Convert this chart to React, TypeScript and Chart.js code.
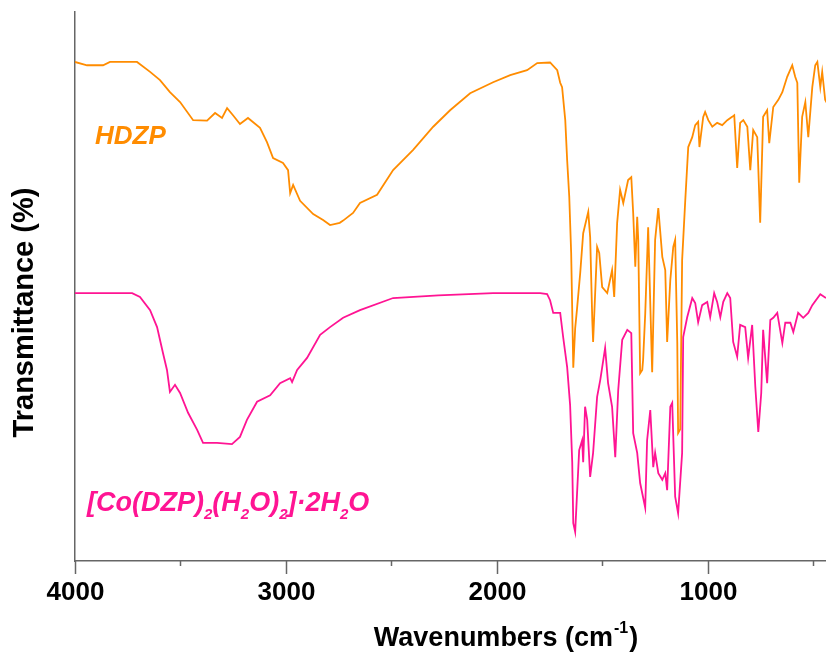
import React, { useEffect, useRef } from "react";
import { Chart, registerables } from "chart.js";

Chart.register(...registerables);

// HDZP spectrum (wavenumber cm-1, transmittance, arbitrary %)
const wnHDZP = [
  4000, 3943, 3867, 3834, 3706, 3644, 3597, 3550, 3502, 3440, 3374, 3336, 3303, 3279, 3251, 3218, 3180, 3123, 3090,
  3061, 3014, 2990, 2980, 2966, 2933, 2871, 2824, 2791, 2745, 2729, 2682, 2649, 2568, 2492, 2397, 2302, 2222, 2127,
  2018, 1937, 1857, 1809, 1748, 1714, 1700, 1691, 1676, 1667, 1657, 1648, 1638, 1629, 1620, 1605, 1591, 1567, 1558,
  1548, 1544, 1525, 1515, 1501, 1477, 1454, 1444, 1430, 1416, 1401, 1378, 1363, 1354, 1344, 1335, 1330, 1321, 1311,
  1307, 1297, 1283, 1264, 1250, 1235, 1216, 1202, 1193, 1178, 1164, 1155, 1145, 1141, 1131, 1122, 1107, 1093, 1074,
  1060, 1046, 1040, 1022, 1013, 998, 979, 956, 932, 908, 885, 875, 861, 847, 832, 813, 799, 785, 766, 752, 738, 719,
  709, 690, 666, 647, 624, 600, 586, 576, 567, 553, 538, 524, 505, 491, 481, 467, 458, 444, 430,
];
const tHDZP = [
  90.9, 90.3, 90.3, 90.9, 90.9, 89.1, 87.6, 85.4, 83.6, 80.3, 80.2, 81.6, 80.7, 82.5, 81.2, 79.6, 80.7, 78.9, 76.3,
  73.4, 72.5, 71.2, 67.0, 68.5, 65.6, 63.2, 62.1, 61.2, 61.6, 62.0, 63.4, 65.2, 66.7, 71.2, 74.9, 79.1, 82.1, 85.2,
  87.2, 88.5, 89.4, 90.7, 90.8, 89.4, 87.1, 86.3, 80.3, 73.0, 66.3, 56.1, 35.2, 42.4, 46.0, 52.5, 59.7, 63.6, 59.0,
  44.0, 39.9, 57.2, 56.1, 49.9, 48.8, 53.0, 48.1, 61.6, 67.6, 65.2, 69.4, 69.9, 63.4, 53.6, 62.7, 58.5, 34.2, 34.8,
  36.6, 45.0, 60.8, 34.4, 58.5, 64.3, 55.4, 53.0, 39.9, 51.2, 57.2, 58.5, 39.7, 23.3, 24.0, 54.8, 65.8, 75.4, 77.2,
  79.4, 80.0, 75.4, 80.9, 81.8, 80.3, 79.1, 79.8, 79.4, 80.3, 80.9, 81.2, 71.6, 79.8, 80.3, 79.1, 71.2, 78.5, 77.2,
  61.6, 80.9, 82.1, 76.1, 82.7, 84.0, 85.4, 88.2, 90.3, 88.2, 87.1, 68.9, 80.9, 83.6, 77.2, 86.3, 90.3, 90.9, 86.3,
  89.1, 84.0, 83.0,
];

// [Co(DZP)2(H2O)2]·2H2O spectrum
const wnCo = [
  4000, 3729, 3692, 3644, 3611, 3583, 3564, 3550, 3526, 3502, 3464, 3421, 3393, 3327, 3256, 3218, 3185, 3137, 3075,
  3028, 2980, 2971, 2947, 2900, 2838, 2791, 2729, 2649, 2492, 2278, 2018, 1795, 1762, 1748, 1733, 1700, 1686, 1667,
  1653, 1643, 1638, 1629, 1620, 1610, 1596, 1591, 1582, 1572, 1558, 1544, 1525, 1510, 1487, 1473, 1454, 1439, 1425,
  1406, 1382, 1363, 1354, 1335, 1321, 1297, 1288, 1273, 1259, 1250, 1235, 1216, 1202, 1193, 1178, 1169, 1155, 1141,
  1122, 1117, 1098, 1074, 1060, 1046, 1027, 1003, 989, 970, 956, 941, 927, 908, 894, 880, 861, 847, 823, 809, 790,
  775, 761, 747, 738, 719, 704, 690, 671, 647, 633, 609, 595, 572, 548, 524, 505, 467, 440,
];
const tCo = [
  48.8, 48.8, 48.1, 45.7, 42.6, 37.9, 34.8, 30.8, 32.1, 30.6, 27.0, 23.9, 21.5, 21.5, 21.3, 22.6, 25.7, 29.0, 30.2,
  32.4, 33.3, 32.6, 34.8, 37.0, 41.2, 42.6, 44.3, 45.7, 47.9, 48.4, 48.8, 48.8, 48.6, 47.5, 45.2, 45.2, 40.8, 35.3,
  28.4, 18.0, 6.9, 5.3, 12.4, 20.2, 22.0, 18.0, 28.1, 25.7, 15.3, 19.7, 29.9, 33.0, 38.8, 32.4, 28.1, 18.9, 31.1,
  40.3, 42.1, 41.5, 23.3, 19.7, 14.2, 9.7, 22.0, 27.5, 17.1, 19.7, 16.0, 14.8, 16.0, 12.9, 28.1, 28.8, 11.7, 8.7,
  19.7, 40.8, 44.4, 47.9, 47.0, 43.5, 46.6, 47.2, 44.4, 48.8, 47.2, 44.4, 47.2, 48.8, 47.9, 39.9, 37.2, 43.0, 42.6,
  37.0, 43.0, 31.7, 23.5, 30.6, 42.1, 32.4, 43.9, 44.3, 45.2, 39.7, 43.4, 43.4, 41.7, 45.2, 44.3, 45.2, 46.6, 48.6,
  47.9,
];

const xMin = 440;
const xMax = 4000;
const tickStep = 500;
const labelStep = 1000;

const ORANGE = "#FF8C00";
const PINK = "#FF1493";
const AXIS = "#666666";
const FONT = "'Liberation Sans', Arial, sans-serif";

const toPoints = (xs: number[], ys: number[]) => xs.map((x, i) => ({ x, y: ys[i] }));

const decorPlugin = {
  id: "decor",
  afterDraw(chart: any) {
    const { ctx, chartArea } = chart;
    const xs = chart.scales.x;
    ctx.save();
    // tick marks and labels
    ctx.strokeStyle = AXIS;
    ctx.lineWidth = 1.5;
    ctx.fillStyle = "#000";
    ctx.font = `bold 26px ${FONT}`;
    ctx.textAlign = "center";
    ctx.textBaseline = "alphabetic";
    const vals: number[] = [];
    for (let v = Math.ceil(xMin / tickStep) * tickStep; v <= xMax; v += tickStep) vals.push(v);
    for (const v of vals) {
      const major = v % labelStep === 0;
      const px = Math.round(xs.getPixelForValue(v)) + 0.5;
      const len = major ? 13 : 5;
      ctx.beginPath();
      ctx.moveTo(px, chartArea.bottom);
      ctx.lineTo(px, chartArea.bottom + len);
      ctx.stroke();
      if (major) ctx.fillText(String(v), px, chartArea.bottom + 39);
    }
    // y title
    ctx.save();
    ctx.translate(25, (chartArea.top + chartArea.bottom) / 2 + 26);
    ctx.rotate(-Math.PI / 2);
    ctx.font = `bold 29px ${FONT}`;
    ctx.textAlign = "center";
    ctx.textBaseline = "middle";
    ctx.fillText("Transmittance (%)", 0, 0);
    ctx.restore();
    // x title with superscript
    const mainF = `bold 27px ${FONT}`;
    const supF = `bold 16px ${FONT}`;
    ctx.font = mainF;
    const a = "Wavenumbers (cm";
    const wa = ctx.measureText(a).width;
    ctx.font = supF;
    const s = "-1";
    const ws = ctx.measureText(s).width;
    ctx.font = mainF;
    const wc = ctx.measureText(")").width;
    const total = wa + ws + wc + 2;
    const x0 = 506 - total / 2;
    const base = 646;
    ctx.textAlign = "left";
    ctx.textBaseline = "alphabetic";
    ctx.fillText(a, x0, base);
    ctx.font = supF;
    ctx.fillText(s, x0 + wa + 1, base - 13);
    ctx.font = mainF;
    ctx.fillText(")", x0 + wa + ws + 2, base);
    // series labels
    ctx.fillStyle = ORANGE;
    ctx.font = `italic bold 26px ${FONT}`;
    ctx.fillText("HDZP", 95, 144);
    const parts: [string, boolean][] = [
      ["[Co(DZP)", false],
      ["2", true],
      ["(H", false],
      ["2", true],
      ["O)", false],
      ["2", true],
      ["]·2H", false],
      ["2", true],
      ["O", false],
    ];
    ctx.fillStyle = PINK;
    let px = 87;
    for (const [t, sub] of parts) {
      ctx.font = sub ? `italic bold 15px ${FONT}` : `italic bold 27px ${FONT}`;
      ctx.fillText(t, px, sub ? 519 : 511);
      px += ctx.measureText(t).width;
    }
    ctx.restore();
  },
};

export default function App() {
  const ref = useRef<HTMLCanvasElement>(null);
  useEffect(() => {
    if (!ref.current) return;
    const chart = new Chart(ref.current, {
      type: "line",
      data: {
        datasets: [
          {
            label: "HDZP",
            data: toPoints(wnHDZP, tHDZP),
            borderColor: ORANGE,
            borderWidth: 1.8,
            pointRadius: 0,
            tension: 0,
          },
          {
            label: "[Co(DZP)2(H2O)2]·2H2O",
            data: toPoints(wnCo, tCo),
            borderColor: PINK,
            borderWidth: 1.8,
            pointRadius: 0,
            tension: 0,
          },
        ],
      },
      options: {
        animation: false,
        responsive: false,
        devicePixelRatio: 1,
        layout: { padding: { top: 12, right: 0, left: 0, bottom: 0 } },
        plugins: { legend: { display: false }, tooltip: { enabled: false } },
        scales: {
          x: {
            type: "linear",
            reverse: true,
            min: xMin,
            max: xMax,
            border: { display: true, color: AXIS, width: 1.5 },
            grid: { display: false, drawTicks: false },
            ticks: { display: false, stepSize: tickStep, includeBounds: false },
            afterFit: (s: any) => {
              s.height = 94;
            },
          },
          y: {
            min: 0,
            max: 100,
            border: { display: true, color: AXIS, width: 1.5 },
            grid: { display: false, drawTicks: false },
            ticks: { display: false },
            afterFit: (s: any) => {
              s.width = 75;
            },
          },
        },
      },
      plugins: [decorPlugin],
    } as any);
    return () => chart.destroy();
  }, []);
  return (
    <div style={{ position: "fixed", left: 0, top: 0, width: 826, height: 655, background: "#fff" }}>
      <canvas ref={ref} width={826} height={655} />
    </div>
  );
}
